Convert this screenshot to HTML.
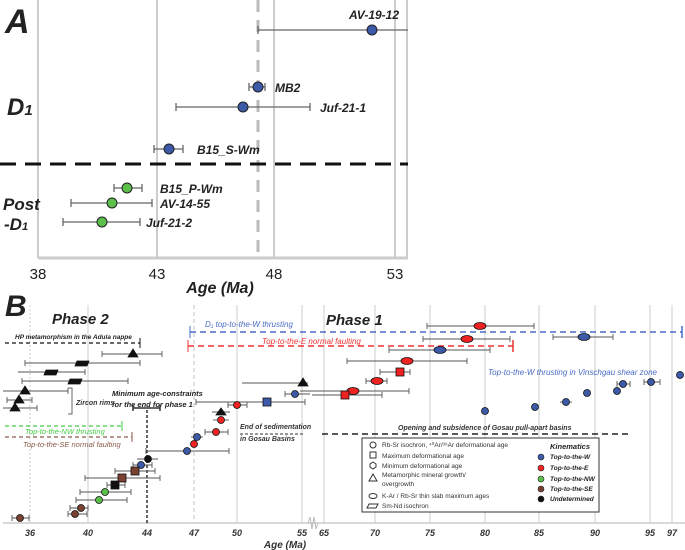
<!DOCTYPE html><html><head><style>body{margin:0;background:#fff}svg{display:block}text{font-family:"Liberation Sans",sans-serif}</style></head><body>
<svg width="685" height="550" viewBox="0 0 685 550" xmlns="http://www.w3.org/2000/svg">
<!-- Panel A -->
<g stroke="#ccc" stroke-width="2"><line x1="38" y1="0" x2="38" y2="258"/><line x1="157" y1="0" x2="157" y2="258"/><line x1="274" y1="0" x2="274" y2="258"/><line x1="395" y1="0" x2="395" y2="258"/><line x1="407" y1="0" x2="407" y2="258"/></g>
<line x1="38" y1="258" x2="408" y2="258" stroke="#ccc" stroke-width="3"/>
<line x1="258" y1="0" x2="258" y2="258" stroke="#bbb" stroke-width="3" stroke-dasharray="12,8"/>
<line x1="0" y1="164" x2="408" y2="164" stroke="#111" stroke-width="3" stroke-dasharray="16,9"/>
<g stroke="#666" stroke-width="1.3" fill="none">
<path d="M258 30H408M258 26v8"/>
<path d="M249 87H265M249 83v8M265 83v8"/>
<path d="M176 107H310M176 103v8M310 103v8"/>
<path d="M154 149H183M154 145v8M183 145v8"/>
<path d="M114 188H142M114 184v8M142 184v8"/>
<path d="M71 203H152M71 199v8M152 199v8"/>
<path d="M63 222H140M63 218v8M140 218v8"/>
</g>
<g stroke="#222" stroke-width="1"><circle cx="372" cy="30" r="5" fill="#3c5aa8"/><circle cx="258" cy="87" r="5" fill="#3c5aa8"/><circle cx="243" cy="107" r="5" fill="#3c5aa8"/><circle cx="169" cy="149" r="5" fill="#3c5aa8"/><circle cx="127" cy="188" r="5" fill="#5cbf4a"/><circle cx="112" cy="203" r="5" fill="#5cbf4a"/><circle cx="102" cy="222" r="5" fill="#5cbf4a"/></g>
<g font-weight="bold" font-style="italic" font-size="12" fill="#222">
<text x="349" y="19">AV-19-12</text><text x="275" y="92">MB2</text><text x="320" y="112">Juf-21-1</text><text x="197" y="154">B15_S-Wm</text><text x="160" y="193">B15_P-Wm</text><text x="160" y="208">AV-14-55</text><text x="146" y="227">Juf-21-2</text>
</g>
<text x="5" y="33" font-size="34" font-weight="bold" font-style="italic" fill="#222">A</text>
<text x="7" y="115" font-size="24" font-weight="bold" font-style="italic" fill="#222">D<tspan font-size="15">1</tspan></text>
<text x="3" y="210" font-size="17" font-weight="bold" font-style="italic" fill="#222">Post</text>
<text x="4" y="230" font-size="17" font-weight="bold" font-style="italic" fill="#222">-D<tspan font-size="11">1</tspan></text>
<g font-size="15" fill="#222" text-anchor="middle"><text x="38" y="279">38</text><text x="157" y="279">43</text><text x="274" y="279">48</text><text x="395" y="279">53</text></g>
<text x="220" y="293" font-size="16" font-weight="bold" font-style="italic" fill="#222" text-anchor="middle">Age (Ma)</text>
<!-- Panel B -->
<text x="5" y="316" font-size="30" font-weight="bold" font-style="italic" fill="#222">B</text>
<g stroke="#ddd" stroke-width="1.5"><line x1="30" y1="305" x2="30" y2="523" stroke-dasharray="2,2"/><line x1="88" y1="305" x2="88" y2="523"/><line x1="237" y1="305" x2="237" y2="523"/><line x1="302" y1="305" x2="302" y2="523"/><line x1="324" y1="305" x2="324" y2="523"/><line x1="375" y1="305" x2="375" y2="523"/><line x1="430" y1="305" x2="430" y2="523"/><line x1="485" y1="305" x2="485" y2="523"/><line x1="539" y1="305" x2="539" y2="523"/><line x1="595" y1="305" x2="595" y2="523"/><line x1="650" y1="305" x2="650" y2="523"/><line x1="672" y1="305" x2="672" y2="523"/></g>
<line x1="194" y1="305" x2="194" y2="523" stroke="#ccc" stroke-width="1.2" stroke-dasharray="4,3"/>
<line x1="3" y1="523" x2="685" y2="523" stroke="#ccc" stroke-width="1.5"/>
<path d="M308 523l2-6 2 12 2-12 2 12 2-6" stroke="#bbb" fill="none"/>
<g font-size="9" font-weight="bold" font-style="italic" fill="#333" text-anchor="middle"><text x="30" y="536">36</text><text x="88" y="536">40</text><text x="147" y="536">44</text><text x="194" y="536">47</text><text x="237" y="536">50</text><text x="302" y="536">55</text><text x="324" y="536">65</text><text x="375" y="536">70</text><text x="430" y="536">75</text><text x="485" y="536">80</text><text x="539" y="536">85</text><text x="595" y="536">90</text><text x="650" y="536">95</text><text x="672" y="536">97</text></g>
<text x="285" y="548" font-size="10" font-weight="bold" font-style="italic" fill="#333" text-anchor="middle">Age (Ma)</text>
<text x="52" y="324" font-size="15" font-weight="bold" font-style="italic" fill="#222">Phase 2</text>
<text x="326" y="325" font-size="15" font-weight="bold" font-style="italic" fill="#222">Phase 1</text>
<!-- dashed ranges -->
<line x1="5" y1="343" x2="140" y2="343" stroke="#111" stroke-width="1.3" stroke-dasharray="4,3"/><line x1="140" y1="338" x2="140" y2="348" stroke="#111"/>
<text x="15" y="339" font-size="6.5" font-weight="bold" font-style="italic" fill="#222">HP metamorphism in the Adula nappe</text>
<line x1="190" y1="332" x2="682" y2="332" stroke="#4a6cc8" stroke-width="1.5" stroke-dasharray="6,4"/><line x1="190" y1="326" x2="190" y2="338" stroke="#4a6cc8"/><line x1="682" y1="326" x2="682" y2="338" stroke="#4a6cc8" stroke-width="1.5"/>
<text x="205" y="327" font-size="8" font-style="italic" fill="#4a6cc8">D₁ top-to-the-W thrusting</text>
<line x1="188" y1="346" x2="513" y2="346" stroke="#e33" stroke-width="1.5" stroke-dasharray="6,4"/><line x1="188" y1="340" x2="188" y2="352" stroke="#e33"/><line x1="513" y1="340" x2="513" y2="352" stroke="#e33" stroke-width="1.5"/>
<text x="262" y="344" font-size="8" font-style="italic" fill="#e33">Top-to-the-E normal faulting</text>
<line x1="5" y1="426" x2="122" y2="426" stroke="#4c4" stroke-width="1.3" stroke-dasharray="4,3"/><line x1="122" y1="421" x2="122" y2="431" stroke="#4c4"/>
<text x="25" y="434" font-size="7.5" font-style="italic" fill="#4c4">Top-to-the-NW thrusting</text>
<line x1="5" y1="437" x2="132" y2="437" stroke="#8a5a4a" stroke-width="1.3" stroke-dasharray="4,3"/><line x1="132" y1="432" x2="132" y2="442" stroke="#8a5a4a"/>
<text x="23" y="447" font-size="7.5" font-style="italic" fill="#8a5a4a">Top-to-the-SE normal faulting</text>
<text x="112" y="396" font-size="7.5" font-weight="bold" font-style="italic" fill="#222">Minimum age-constraints</text>
<text x="112" y="407" font-size="7.5" font-weight="bold" font-style="italic" fill="#222">for the end for phase 1</text>
<path d="M133 408H160M133 405v6M160 405v6" stroke="#333" stroke-width="1.5"/>
<line x1="147" y1="410" x2="147" y2="523" stroke="#111" stroke-width="1.3" stroke-dasharray="3,2"/>
<path d="M68 388h4v26h-4" stroke="#666" fill="none"/>
<text x="76" y="405" font-size="7" font-weight="bold" font-style="italic" fill="#333">Zircon rims</text>
<text x="240" y="429" font-size="7" font-weight="bold" font-style="italic" fill="#333">End of sedimentation</text>
<line x1="240" y1="434" x2="305" y2="434" stroke="#333" stroke-dasharray="3,2"/>
<text x="240" y="441" font-size="7" font-weight="bold" font-style="italic" fill="#333">in Gosau Basins</text>
<line x1="322" y1="434" x2="630" y2="434" stroke="#222" stroke-width="1.5" stroke-dasharray="6,4"/>
<text x="398" y="430" font-size="7" font-weight="bold" font-style="italic" fill="#333">Opening and subsidence of Gosau pull-apart basins</text>
<text x="488" y="375" font-size="8" font-style="italic" fill="#4a6cc8">Top-to-the-W thrusting in Vinschgau shear zone</text>
<!-- error bars -->
<g stroke="#555" stroke-width="0.9" fill="none">
<path d="M102 354H162M102 351v6M162 351v6"/><path d="M25 363H140M25 360v6M140 360v6"/><path d="M18 372H85M85 369v6"/><path d="M22 381H128M22 378v6M128 378v6"/><path d="M3 391H68M68 388v6"/><path d="M7 400H32M7 397v6M32 397v6"/><path d="M3 408H37M37 405v6"/>
<path d="M427 326H534M427 323v6M534 323v6"/><path d="M553 337H613M553 334v6M613 334v6"/><path d="M423 339H510M423 336v6M510 336v6"/><path d="M389 350H490M389 347v6M490 347v6"/><path d="M347 361H467M347 358v6M467 358v6"/><path d="M380 372H410M380 369v6M410 369v6"/><path d="M366 381H387M366 378v6M387 378v6"/>
<path d="M242 383H308"/><path d="M285 394H310M285 391v6"/><path d="M300 391H409M409 388v6"/><path d="M312 395H382M382 392v6"/>
<path d="M196 402H305M196 399v6M305 399v6"/><path d="M228 405H247M228 402v6M247 402v6"/><path d="M212 412H230"/><path d="M213 420H229"/><path d="M205 432H228M205 429v6M228 429v6"/><path d="M191 437H203"/><path d="M146 451H229M146 448v6M229 448v6"/><path d="M137 459H158"/><path d="M133 465H152M133 462v6M152 462v6"/><path d="M115 471H155M115 468v6M155 468v6"/><path d="M85 478H160M85 475v6M160 475v6"/><path d="M107 485H125M107 482v6M125 482v6"/><path d="M80 492H131M80 489v6M131 489v6"/><path d="M76 500H127M76 497v6M127 497v6"/><path d="M70 508H88M70 505v6M88 505v6"/><path d="M68 514H87M68 511v6M87 511v6"/><path d="M12 518H29M12 515v6M29 515v6"/>
<path d="M617 384H630M617 381v6M630 381v6"/><path d="M644 382H660M644 379v6M660 379v6"/><path d="M560 402H572"/>
</g>
<g stroke="#111" stroke-width="0.8">
<polygon points="133,349 138,357 128,357" fill="#111"/><polygon points="25,386 30,394 20,394" fill="#111"/><polygon points="19,395 24,403 14,403" fill="#111"/><polygon points="15,403 20,411 10,411" fill="#111"/><polygon points="303,378 308,386 298,386" fill="#111"/><polygon points="221,408 226,415 216,415" fill="#111"/>
<polygon points="77,361 89,361 87,366 75,366" fill="#111"/><polygon points="46,370 58,370 56,375 44,375" fill="#111"/><polygon points="70,379 82,379 80,384 68,384" fill="#111"/>
<ellipse cx="480" cy="326" rx="6" ry="3.5" fill="#e22"/><ellipse cx="584" cy="337" rx="6" ry="3.5" fill="#3c5aa8"/><ellipse cx="467" cy="339" rx="6" ry="3.5" fill="#e22"/><ellipse cx="440" cy="350" rx="6" ry="3.5" fill="#3c5aa8"/><ellipse cx="407" cy="361" rx="6" ry="3.5" fill="#e22"/><ellipse cx="377" cy="381" rx="6" ry="3.5" fill="#e22"/><ellipse cx="353" cy="391" rx="6" ry="3.5" fill="#e22"/>
<rect x="396" y="368" width="8" height="8" fill="#e22"/><rect x="341" y="391" width="8" height="8" fill="#e22"/><rect x="263" y="398" width="8" height="8" fill="#3c5aa8"/>
<circle cx="295" cy="394" r="3.5" fill="#3c5aa8"/><circle cx="237" cy="405" r="3.5" fill="#e22"/><circle cx="221" cy="420" r="3.5" fill="#e22"/><circle cx="216" cy="432" r="3.5" fill="#e22"/><circle cx="197" cy="437" r="3.5" fill="#3c5aa8"/><circle cx="194" cy="444" r="3.5" fill="#e22"/><circle cx="187" cy="451" r="3.5" fill="#3c5aa8"/><circle cx="148" cy="459" r="3.5" fill="#111"/><circle cx="141" cy="465" r="3.5" fill="#3c5aa8"/>
<rect x="131" y="467" width="8" height="8" fill="#7a4030"/><rect x="118" y="474" width="8" height="8" fill="#7a4030"/><rect x="111" y="481" width="8" height="8" fill="#111"/>
<circle cx="105" cy="492" r="3.5" fill="#5cbf4a"/><circle cx="99" cy="500" r="3.5" fill="#5cbf4a"/><circle cx="81" cy="508" r="3.5" fill="#7a4030"/><circle cx="75" cy="514" r="3.5" fill="#7a4030"/><circle cx="20" cy="518" r="3.5" fill="#7a4030"/>
<circle cx="485" cy="411" r="3.5" fill="#3c5aa8"/><circle cx="535" cy="407" r="3.5" fill="#3c5aa8"/><circle cx="566" cy="402" r="3.5" fill="#3c5aa8"/><circle cx="587" cy="393" r="3.5" fill="#3c5aa8"/><circle cx="617" cy="391" r="3.5" fill="#3c5aa8"/><circle cx="623" cy="384" r="3.5" fill="#3c5aa8"/><circle cx="651" cy="382" r="3.5" fill="#3c5aa8"/><circle cx="680" cy="375" r="3.5" fill="#3c5aa8"/>
</g>
<!-- legend -->
<rect x="362" y="438" width="237" height="74" fill="#fff" stroke="#333" stroke-width="1"/>
<g font-size="6.5" fill="#333">
<circle cx="373" cy="445" r="3" fill="none" stroke="#333"/><text x="382" y="447">Rb-Sr isochron, ⁴⁰Ar/³⁹Ar deformational age</text>
<rect x="370" y="452" width="6" height="6" fill="none" stroke="#333"/><text x="382" y="458">Maximum deformational age</text>
<polygon points="373,462 376,464 376,467 373,469 370,467 370,464" fill="none" stroke="#333"/><text x="382" y="468">Minimum deformational age</text>
<polygon points="373,474 377,481 369,481" fill="none" stroke="#333"/><text x="382" y="477">Metamorphic mineral growth/</text><text x="382" y="486">overgrowth</text>
<ellipse cx="373" cy="496" rx="4" ry="2.5" fill="none" stroke="#333"/><text x="382" y="498">K-Ar / Rb-Sr thin slab maximum ages</text>
<polygon points="369,504 378,504 376,508 367,508" fill="none" stroke="#333"/><text x="382" y="508">Sm-Nd isochron</text>
</g>
<g font-size="6.5" font-weight="bold" font-style="italic" fill="#222">
<text x="550" y="449" font-size="7.5">Kinematics</text>
<circle cx="541" cy="457" r="3" fill="#3c5aa8" stroke="#222" stroke-width="0.6"/><text x="550" y="459">Top-to-the-W</text>
<circle cx="541" cy="468" r="3" fill="#e22" stroke="#222" stroke-width="0.6"/><text x="550" y="470">Top-to-the-E</text>
<circle cx="541" cy="479" r="3" fill="#5cbf4a" stroke="#222" stroke-width="0.6"/><text x="550" y="481">Top-to-the-NW</text>
<circle cx="541" cy="489" r="3" fill="#7a4030" stroke="#222" stroke-width="0.6"/><text x="550" y="491">Top-to-the-SE</text>
<circle cx="541" cy="499" r="3" fill="#111" stroke="#222" stroke-width="0.6"/><text x="550" y="501">Undetermined</text>
</g>
</svg>
</body></html>
